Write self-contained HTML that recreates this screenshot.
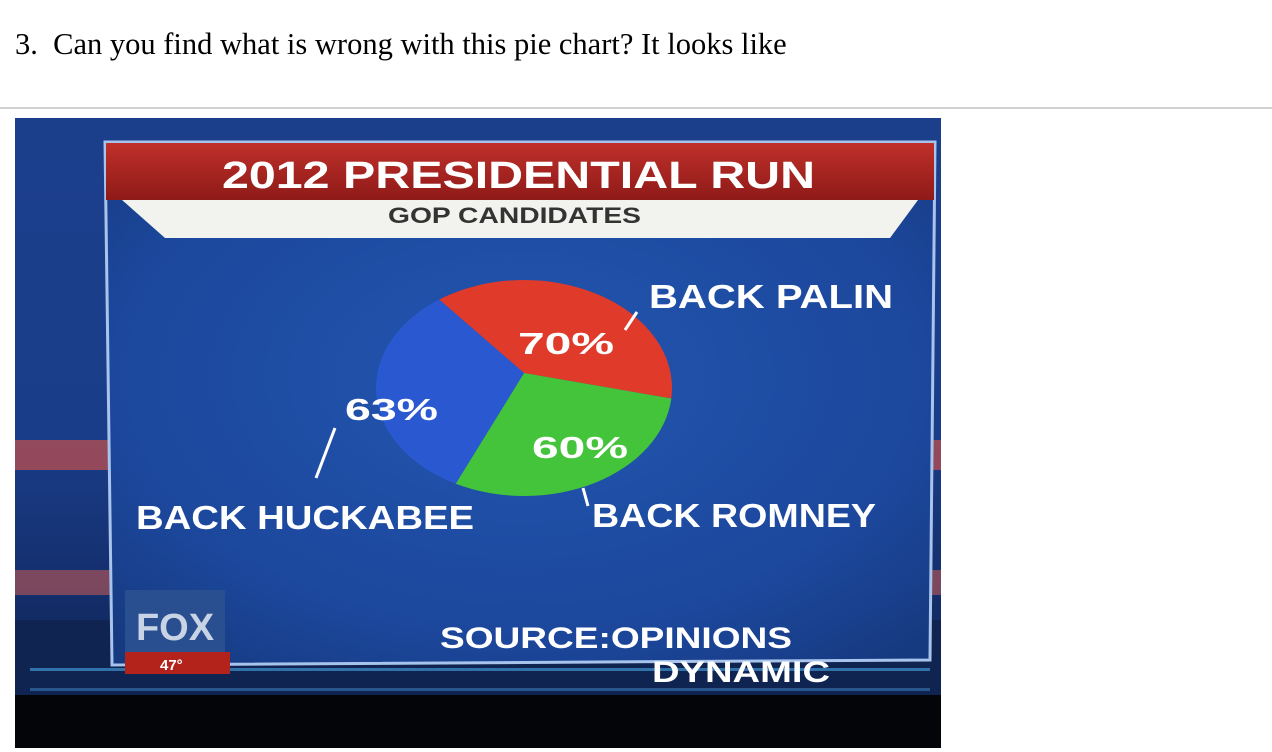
<!DOCTYPE html>
<html><head><meta charset="utf-8"><style>
body{margin:0;width:1272px;height:752px;background:#fff;overflow:hidden;position:relative}
.q{position:absolute;left:15px;top:27px;font-family:"Liberation Serif",serif;font-size:30.5px;color:#000}
.hr{position:absolute;left:0;top:107px;width:1272px;height:2px;background:#d0d0d0}
svg{position:absolute;left:0;top:0}
text{font-family:"Liberation Sans",sans-serif;font-weight:bold}
</style></head><body>
<div class="q">3.&nbsp; Can you find what is wrong with this pie chart? It looks like</div>
<div class="hr"></div>
<svg width="1272" height="752">
<defs>
<linearGradient id="bg" x1="0" y1="0" x2="0" y2="1"><stop offset="0" stop-color="#1c3f8c"/><stop offset="0.5" stop-color="#1a3d8a"/><stop offset="1" stop-color="#0d1f4c"/></linearGradient>
<radialGradient id="panel" cx="0.5" cy="0.45" r="0.7"><stop offset="0" stop-color="#2256b0"/><stop offset="0.7" stop-color="#1c479c"/><stop offset="1" stop-color="#163a80"/></radialGradient>
<linearGradient id="red" x1="0" y1="0" x2="0" y2="1"><stop offset="0" stop-color="#c0302a"/><stop offset="1" stop-color="#8e1a18"/></linearGradient>
</defs>
<rect x="15" y="118" width="926" height="630" fill="url(#bg)"/>
<rect x="15" y="440" width="926" height="30" fill="#c85048" opacity="0.7"/>
<rect x="15" y="570" width="926" height="25" fill="#c05a55" opacity="0.6"/>
<rect x="15" y="620" width="926" height="80" fill="#0f2450"/>
<rect x="15" y="695" width="926" height="53" fill="#030509"/>
<g fill="#4aa6e8">
<rect x="30" y="668" width="900" height="3" opacity="0.6"/>
<rect x="30" y="688" width="900" height="3" opacity="0.4"/>
</g>
<polygon points="105,142 935,142 930,660 112,665" fill="url(#panel)" stroke="#a8c4ec" stroke-width="3"/>
<rect x="106" y="143" width="828" height="57" fill="url(#red)"/>
<polygon points="122,200 918,200 890,238 165,238" fill="#f2f2ee"/>
<text x="222" y="188" font-size="38" textLength="593" lengthAdjust="spacingAndGlyphs" fill="#fff">2012 PRESIDENTIAL RUN</text>
<text x="388" y="223" font-size="22" textLength="253" lengthAdjust="spacingAndGlyphs" fill="#333">GOP CANDIDATES</text>
<g id="pie"></g>
<g fill="#fff" font-size="33">
<text x="518" y="354" font-size="31" textLength="96" lengthAdjust="spacingAndGlyphs">70%</text>
<text x="345" y="420" font-size="31" textLength="93" lengthAdjust="spacingAndGlyphs">63%</text>
<text x="532" y="458" font-size="31" textLength="96" lengthAdjust="spacingAndGlyphs">60%</text>
<text x="649" y="308" textLength="244" lengthAdjust="spacingAndGlyphs">BACK PALIN</text>
<text x="136" y="529" textLength="338" lengthAdjust="spacingAndGlyphs">BACK HUCKABEE</text>
<text x="592" y="527" textLength="284" lengthAdjust="spacingAndGlyphs">BACK ROMNEY</text>
<text x="440" y="648" font-size="30" textLength="352" lengthAdjust="spacingAndGlyphs">SOURCE:OPINIONS</text>
<text x="652" y="682" font-size="30" textLength="178" lengthAdjust="spacingAndGlyphs">DYNAMIC</text>
</g>
<g stroke="#fff" stroke-width="3">
<line x1="625" y1="330" x2="637" y2="312"/>
<line x1="335" y1="428" x2="316" y2="478"/>
<line x1="583" y1="488" x2="588" y2="506"/>
</g>
<rect x="125" y="590" width="100" height="62" fill="#2a4f90"/>
<text x="175" y="640" text-anchor="middle" font-size="38" fill="#c8d4e6" font-family="Liberation Serif">FOX</text>
<rect x="125" y="652" width="105" height="22" fill="#b4221c"/>
<text x="160" y="670" font-size="15" fill="#fff">47°</text>
</svg>
<script>
const candidates=["Palin","Romney","Huckabee"];
const values=[70,60,63];
const colors=["#e03a2a","#44c43a","#2a58d0"];
const cx=524,cy=388,rx=148,ry=108,startDeg=-125;
const g=document.getElementById('pie');
const total=values.reduce((a,b)=>a+b,0);
let a=startDeg*Math.PI/180;
const ns="http://www.w3.org/2000/svg";
values.forEach((v,i)=>{
  const b=a+v/total*2*Math.PI;
  const x1=cx+rx*Math.cos(a),y1=cy+ry*Math.sin(a),x2=cx+rx*Math.cos(b),y2=cy+ry*Math.sin(b);
  const p=document.createElementNS(ns,'path');
  p.setAttribute('d',`M${cx},${cy-15}L${x1},${y1}A${rx},${ry} 0 ${b-a>Math.PI?1:0} 1 ${x2},${y2}Z`);
  p.setAttribute('fill',colors[i]);
  
  
  g.appendChild(p);
  a=b;
});
</script>
</body></html>
